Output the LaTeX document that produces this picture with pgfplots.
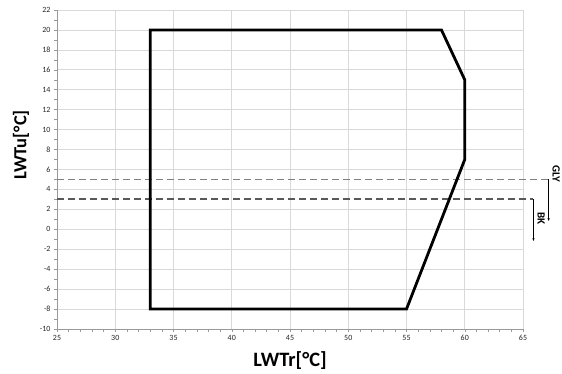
\documentclass[border=0pt]{standalone}
\usepackage{pgfplots}
\pgfplotsset{compat=1.18}
\usetikzlibrary{arrows.meta}
\usepackage{fontspec}
\setmainfont{Carlito}
\begin{document}
\begin{tikzpicture}[x=1bp,y=1bp]
\path[use as bounding box] (-57bp,-45bp) rectangle (505bp,329bp);
\begin{axis}[
  at={(0,0)}, anchor=south west,
  width=466bp, height=319bp, scale only axis,
  xmin=25, xmax=65, ymin=-10, ymax=22,
  xtick={25,30,...,65}, ytick={-10,-8,...,22},
  minor x tick num=4, minor y tick num=1,
  grid=major,
  major grid style={draw=black!15, line width=0.7bp},
  axis line style={draw=black!40, line width=0.7bp},
  tick style={draw=black!40, line width=0.5bp},
  major tick length=3bp, minor tick length=2.5bp,
  tick align=outside,
  axis x line*=bottom, axis y line*=left,
  tick label style={font=\fontsize{8}{9}\selectfont, text=black!85},
  /pgf/number format/assume math mode=true,
  xlabel={\textbf{LWTr[°C]}}, ylabel={\textbf{LWTu[°C]}},
  xlabel style={font=\fontsize{20.5}{22}\selectfont, at={(axis description cs:0.5,0)}, anchor=center, yshift=-32bp},
  ylabel style={font=\fontsize{18.5}{20}\selectfont, at={(axis description cs:0,0.577)}, anchor=center, yshift=36bp},
  clip=false,
]
\addplot[draw=black!15, line width=0.7bp] coordinates {(65,-10) (65,22)};
\addplot[draw=black!50, line width=1.9bp, dash pattern=on 7bp off 4bp] coordinates {(25,5) (67.2,5)};
\addplot[draw=black!65, line width=1.9bp, dash pattern=on 7bp off 4bp] coordinates {(25,3) (65.9,3)};
\addplot[black, line width=0.8bp, -{Latex[length=3bp,width=2.5bp]}] coordinates {(67.2,5) (67.2,0.8)};
\addplot[black, line width=0.8bp, -{Latex[length=3bp,width=2.5bp]}] coordinates {(65.9,3) (65.9,-1.2)};
\node[rotate=-90, font=\fontsize{11}{12}\selectfont\bfseries] at (axis cs:67.85,5.55) {GLY};
\node[rotate=-90, font=\fontsize{11}{12}\selectfont\bfseries] at (axis cs:66.55,1.1) {BK};
\addplot[black, line width=2.8bp, line join=miter] coordinates {(33,-8) (33,20) (58,20) (60,15) (60,7) (55,-8)} -- cycle;
\end{axis}
\end{tikzpicture}
\end{document}
